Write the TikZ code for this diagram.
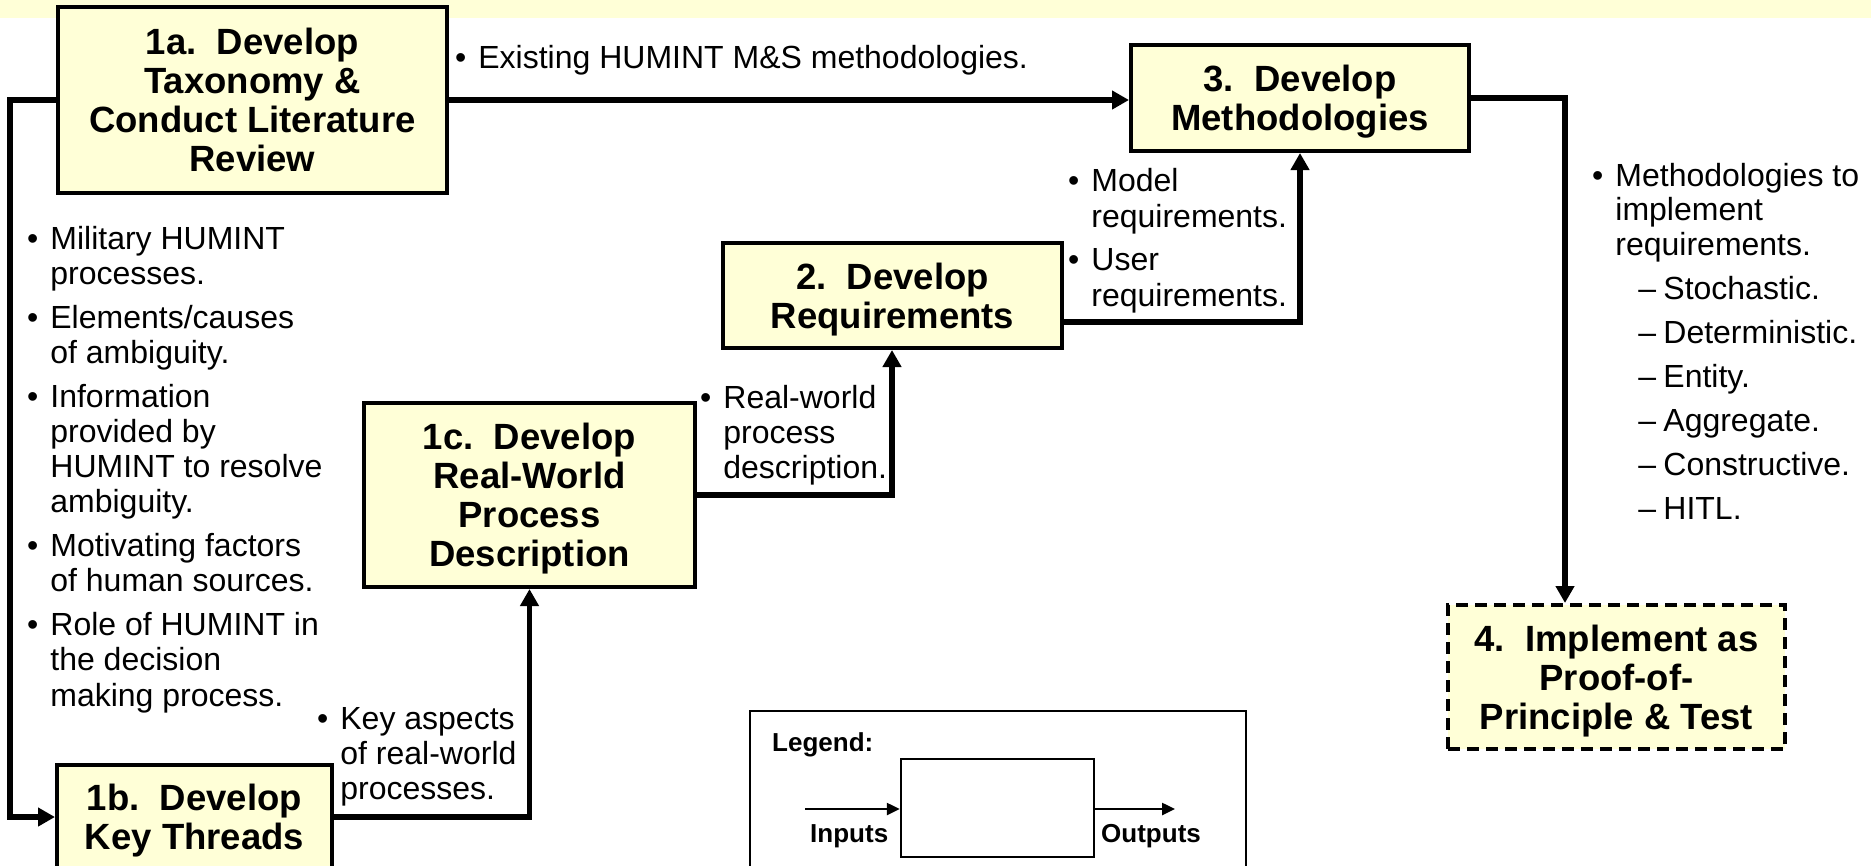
\documentclass[tikz,border=0pt]{standalone}
\usepackage{fontspec}
\setmainfont{Liberation Sans}
\usetikzlibrary{arrows.meta}
\definecolor{paleY}{RGB}{255,255,215}
\frenchspacing
\tikzset{
  stepbox/.style={draw=black, line width=4pt, fill=paleY, inner sep=0pt,
    font=\bfseries\fontsize{36.5}{39}\selectfont},
  flow/.style={line width=5.5pt, -{Triangle[length=17pt,width=18pt]}},
  note/.style={anchor=base west, inner sep=0pt},
  legendtxt/.style={anchor=base west, inner sep=0pt, font=\bfseries\fontsize{26}{30}\selectfont},
  legendarrow/.style={line width=2.5pt, -{Triangle[length=13pt,width=12pt]}},
}
% box caption: centred rows of fixed pitch, capitals centred on the box
\newcommand{\boxtext}[1]{\begin{tabular}{@{}c@{}}\rule{0pt}{37.8pt}#1\end{tabular}}
% bullet list typeset as a top-aligned two-column table
\newenvironment{blist}{\begin{tabular}[t]{@{}l@{\hspace{12pt}}l@{}}}{\end{tabular}}
\newcommand{\dashitem}[1]{\hspace{23pt}\makebox[25pt][l]{–}#1}
\begin{document}
\begin{tikzpicture}[x=1pt,y=-1pt]
\clip (0,0) rectangle (1871,865);
\fill[white] (0,0) rectangle (1871,865);
\fill[paleY] (0,0) rectangle (1871,18);

% process boxes
\node[stepbox, minimum width=389pt, minimum height=186pt] (t1a) at (252.5,100)
  {\boxtext{1a.~~Develop\\Taxonomy \&\\Conduct Literature\\Review}};
\node[stepbox, minimum width=338pt, minimum height=106pt] (t3) at (1300,98)
  {\boxtext{3.~~Develop\\Methodologies}};
\node[stepbox, minimum width=339pt, minimum height=105pt] (t2) at (892.5,295.5)
  {\boxtext{2.~~Develop\\Requirements}};
\node[stepbox, minimum width=331pt, minimum height=184pt] (t1c) at (529.5,495)
  {\boxtext{1c.~~Develop\\Real-World\\Process\\Description}};
\node[stepbox, minimum width=275pt, minimum height=104pt] (t1b) at (194.5,817)
  {\boxtext{1b.~~Develop\\Key Threads}};
\node[stepbox, dash pattern=on 12pt off 7pt, minimum width=337pt, minimum height=144pt] (t4) at (1616.5,677)
  {\boxtext{4.~~Implement as\\Proof-of-\\Principle \& Test}};

% connectors
\coordinate (kleft) at (10,100);
\coordinate (k23) at (1300,322);
\coordinate (k12) at (892,495);
\coordinate (k34) at (1565,98);
\draw[flow] (t1a.east) -- (t1a.east -| t3.west);
\draw[flow] (t1a.west) -- (kleft) -- (kleft |- t1b.west) -- (t1b.west);
\draw[flow] (t1b.east) -- (t1b.east -| t1c.south) -- (t1c.south);
\draw[flow] (t1c.east) -- (k12) -- (k12 |- t2.south);
\draw[flow] (t2.east |- k23) -- (k23) -- (k23 |- t3.south);
\draw[flow] (t3.east) -- (k34) -- (k34 |- t4.north);

% flow annotations
\node[note, font=\fontsize{32}{35}\selectfont] (nexist) at (455,68)
  {\begin{blist}•&Existing HUMINT M\&S methodologies.\end{blist}};
\node[note, font=\fontsize{32}{35.3}\selectfont] (nleft) at (27,249)
  {\begin{blist}
  •&Military HUMINT\\ &processes.\\[8.4pt]
  •&Elements/causes\\ &of ambiguity.\\[8.4pt]
  •&Information\\ &provided by\\ &HUMINT to resolve\\ &ambiguity.\\[8.4pt]
  •&Motivating factors\\ &of human sources.\\[8.4pt]
  •&Role of HUMINT in\\ &the decision\\ &making process.
  \end{blist}};
\node[note, font=\fontsize{32}{36}\selectfont] (nreq) at (1068,191)
  {\begin{blist}
  •&Model\\ &requirements.\\[7pt]
  •&User\\ &requirements.
  \end{blist}};
\node[note, font=\fontsize{32}{35}\selectfont] (nreal) at (700,408)
  {\begin{blist}•&Real-world\\ &process\\ &description.\end{blist}};
\node[note, font=\fontsize{32}{35}\selectfont] (nkey) at (317,729)
  {\begin{blist}•&Key aspects\\ &of real-world\\ &processes.\end{blist}};
\node[note, font=\fontsize{32}{34.5}\selectfont] (nmeth) at (1592,186)
  {\begin{blist}
  •&Methodologies to\\ &implement\\ &requirements.\\[9.5pt]
  &\dashitem{Stochastic.}\\[9.5pt]
  &\dashitem{Deterministic.}\\[9.5pt]
  &\dashitem{Entity.}\\[9.5pt]
  &\dashitem{Aggregate.}\\[9.5pt]
  &\dashitem{Constructive.}\\[9.5pt]
  &\dashitem{HITL.}
  \end{blist}};

% legend
\node[draw=black, line width=2.5pt, minimum width=496pt, minimum height=169pt, inner sep=0pt] (legend) at (998,795.5) {};
\node[draw=black, line width=2.5pt, minimum width=193pt, minimum height=98pt, inner sep=0pt] (lbox) at (997.5,808) {};
\node[legendtxt] (ltitle) at (772,751) {Legend:};
\coordinate (lin) at (805,809);
\coordinate (lout) at (1175,809);
\draw[legendarrow] (lin) -- (lin -| lbox.west);
\draw[legendarrow] (lbox.east |- lout) -- (lout);
\node[legendtxt] (linputs) at (810,842) {Inputs};
\node[legendtxt] (loutputs) at (1101,842) {Outputs};
\end{tikzpicture}
\end{document}
